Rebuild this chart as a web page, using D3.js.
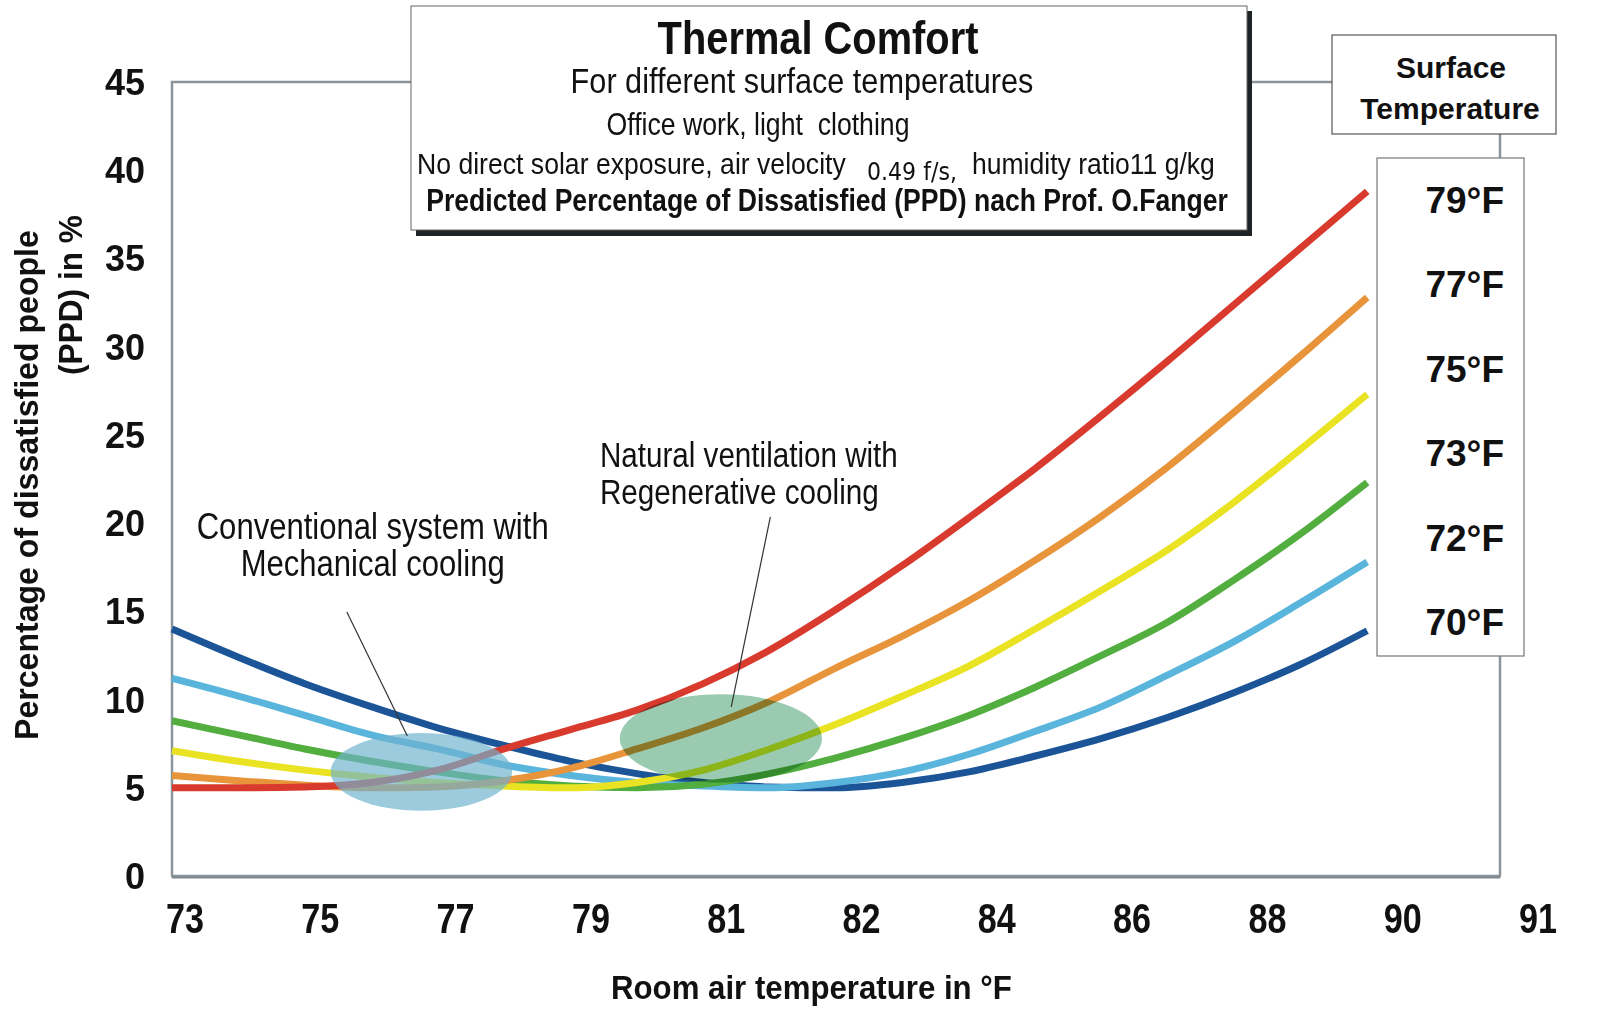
<!DOCTYPE html>
<html>
<head>
<meta charset="utf-8">
<script src="https://cdn.jsdelivr.net/npm/d3@7"></script>
<style>
  body { margin: 0; background: #fff; }
  svg text { fill: #111; white-space: pre; }
</style>
</head>
<body>
<div id="chart"></div>
<script>
// room air temperature (°F) of each reading, one per 0.9 °F
var airTemp = [73.4, 74.3, 75.2, 76.1, 77.0, 77.9, 78.8, 79.7, 80.6, 81.5, 82.4, 83.3, 84.2, 85.1, 86.0, 86.9, 87.8, 88.7, 89.6];

// PPD in % per surface temperature
var ppd79 = [5.0, 5.0, 5.05, 5.3, 6.0, 7.2, 8.3, 9.4, 10.9, 12.8, 15.1, 17.6, 20.3, 23.1, 26.1, 29.2, 32.4, 35.6, 38.8];
var ppd77 = [5.7, 5.4, 5.15, 5.0, 5.05, 5.4, 6.1, 7.2, 8.4, 9.9, 11.8, 13.6, 15.6, 17.9, 20.4, 23.2, 26.3, 29.5, 32.8];
var ppd75 = [7.1, 6.5, 6.0, 5.6, 5.3, 5.1, 5.0, 5.3, 6.0, 7.2, 8.6, 10.2, 11.9, 14.0, 16.2, 18.5, 21.2, 24.2, 27.3];
var ppd73 = [8.8, 8.0, 7.2, 6.5, 5.9, 5.4, 5.1, 5.0, 5.2, 5.8, 6.7, 7.8, 9.1, 10.7, 12.5, 14.4, 16.8, 19.4, 22.3];
var ppd72 = [11.2, 10.2, 9.1, 8.0, 7.2, 6.3, 5.7, 5.3, 5.1, 5.0, 5.3, 5.9, 6.9, 8.2, 9.6, 11.4, 13.3, 15.5, 17.8];
var ppd70 = [14.0, 12.4, 10.9, 9.6, 8.4, 7.4, 6.5, 5.8, 5.3, 5.05, 5.0, 5.3, 5.9, 6.8, 7.8, 9.0, 10.4, 12.0, 13.9];

var seriesNames = ["79°F", "77°F", "75°F", "73°F", "72°F", "70°F"];
var seriesValues = [ppd79, ppd77, ppd75, ppd73, ppd72, ppd70];
var seriesColors = ["#d93a2e", "#e8943a", "#e9e324", "#52ae3f", "#5ab5dc", "#1c5597"];

// axis ticks (x ticks sit every 1.8 °F, labels are rounded)
var xTickLabels = ["73", "75", "77", "79", "81", "82", "84", "86", "88", "90", "91"];
var yTickValues = [0, 5, 10, 15, 20, 25, 30, 35, 40, 45];

// highlighted zones: centre (°F, %) and radii
var zoneNames = ["mechanical", "natural"];
var zoneCx = [76.78, 80.84];
var zoneCy = [5.9, 7.8];
var zoneRx = [1.23, 1.37];
var zoneRy = [2.2, 2.5];
var zoneFill = ["#6fb2cf", "#9acbb0"];
var zoneOpacity = [0.68, 1];
var zoneBlend = ["normal", "multiply"];

// annotations: text lines, anchor and leader line (°F, %)
var noteLines = [["Conventional system with", "Mechanical cooling"], ["Natural ventilation with", "Regenerative cooling"]];
var noteWidths = [[352, 264], [298, 279]];
var noteX = [76.12, 79.2];
var noteY = [19.1, 23.2];
var noteAnchor = ["middle", "start"];
var leaderFrom = [[75.77, 14.96], [81.51, 20.35]];
var leaderTo = [[76.59, 7.93], [80.98, 9.58]];

var margin = {top: 82, right: 100, bottom: 153, left: 172},
    width = 1600 - margin.left - margin.right,
    height = 1029 - margin.top - margin.bottom;

var font = "'Liberation Sans', Arial, sans-serif";

var svg = d3.select("#chart")
  .append("svg")
  .attr("width", 1600)
  .attr("height", 1029);

// narrow look: squeeze regular glyphs horizontally to the width they had
function squeezed(parent, txt, len, px, py, opts) {
  var t = parent.append("text")
    .attr("text-anchor", opts.anchor || "start")
    .style("font-family", opts.family || font)
    .style("font-weight", opts.bold ? "bold" : "normal")
    .style("font-size", opts.size + "px")
    .text(txt);
  var w = t.node().getComputedTextLength();
  t.attr("transform", "translate(" + px + "," + py + ")" +
    (opts.rotate ? " rotate(" + opts.rotate + ")" : "") +
    " scale(" + (len / w) + ",1)");
  return t;
}

var g = svg.append("g")
  .attr("transform", "translate(" + margin.left + "," + margin.top + ")");

var x = d3.scaleLinear().domain([73.4, 91.4]).range([0, width]);
var y = d3.scaleLinear().domain([0, 45]).range([height, 0]);
// labels were spread a bit wider than the ticks in the original
var xLabel = d3.scalePoint().domain(xTickLabels).range([13, 1366]);

// plot frame
g.append("rect")
  .attr("x", 0).attr("y", 0)
  .attr("width", width).attr("height", height)
  .style("fill", "none")
  .style("stroke", "#8a959c")
  .style("stroke-width", 2.5);
g.append("line")
  .attr("x1", 0).attr("x2", width)
  .attr("y1", height + 1.5).attr("y2", height + 1.5)
  .style("stroke", "#7d878e")
  .style("stroke-width", 2);

// y axis labels
g.selectAll(".ytick")
  .data(yTickValues)
  .enter()
  .append("text")
  .attr("class", "ytick")
  .attr("x", -27)
  .attr("y", function(d){ return y(d); })
  .attr("dy", "0.36em")
  .attr("text-anchor", "end")
  .style("font-family", font)
  .style("font-weight", "bold")
  .style("font-size", "36px")
  .text(function(d){ return d; });

// x axis labels
xTickLabels.forEach(function(d){
  squeezed(g, d, 38, xLabel(d), height + 57, {anchor: "middle", bold: true, size: 42});
});

// axis titles
squeezed(svg, "Room air temperature in °F", 401, 611, 999, {bold: true, size: 33});
squeezed(svg, "Percentage of dissatisfied people", 510, 38, 740, {bold: true, size: 34, rotate: -90});
squeezed(svg, "(PPD) in %", 160, 82, 375, {bold: true, size: 34, rotate: -90});

// curves
var line = d3.line()
  .x(function(d){ return x(d[0]); })
  .y(function(d){ return y(d[1]); })
  .curve(d3.curveMonotoneX);

for (var s = seriesValues.length - 1; s >= 0; s--) {
  var pts = airTemp.map(function(t, i){ return [t, seriesValues[s][i]]; });
  g.append("path")
    .datum(pts)
    .attr("d", line)
    .style("fill", "none")
    .style("stroke", seriesColors[s])
    .style("stroke-width", 7);
}

// zones
g.selectAll(".zone")
  .data(zoneNames)
  .enter()
  .append("ellipse")
  .attr("class", "zone")
  .attr("cx", function(d, i){ return x(zoneCx[i]); })
  .attr("cy", function(d, i){ return y(zoneCy[i]); })
  .attr("rx", function(d, i){ return x(zoneCx[i] + zoneRx[i]) - x(zoneCx[i]); })
  .attr("ry", function(d, i){ return y(0) - y(zoneRy[i]); })
  .style("fill", function(d, i){ return zoneFill[i]; })
  .style("fill-opacity", function(d, i){ return zoneOpacity[i]; })
  .style("mix-blend-mode", function(d, i){ return zoneBlend[i]; });

// annotations
for (var n = 0; n < noteLines.length; n++) {
  g.append("line")
    .attr("x1", x(leaderFrom[n][0])).attr("y1", y(leaderFrom[n][1]))
    .attr("x2", x(leaderTo[n][0])).attr("y2", y(leaderTo[n][1]))
    .style("stroke", "#333")
    .style("stroke-width", 1.2);
  for (var k = 0; k < noteLines[n].length; k++) {
    squeezed(g, noteLines[n][k], noteWidths[n][k], x(noteX[n]), y(noteY[n]) + k * 37,
      {anchor: noteAnchor[n], size: 36});
  }
}

// title box
svg.append("rect")
  .attr("x", 416).attr("y", 11)
  .attr("width", 836).attr("height", 225)
  .style("fill", "#1e2326");
svg.append("rect")
  .attr("x", 411).attr("y", 6)
  .attr("width", 836).attr("height", 224)
  .style("fill", "#fff")
  .style("stroke", "#666")
  .style("stroke-width", 1);

squeezed(svg, "Thermal Comfort", 321, 818, 54, {anchor: "middle", bold: true, size: 46});
squeezed(svg, "For different surface temperatures", 463, 802, 93, {anchor: "middle", size: 36});
squeezed(svg, "Office work, light  clothing", 303, 758, 135, {anchor: "middle", size: 31});
squeezed(svg, "No direct solar exposure, air velocity", 429, 417, 174, {size: 30});
squeezed(svg, "0.49 f/s,", 90, 867, 180, {size: 24, family: "'DejaVu Sans Condensed', 'DejaVu Sans', sans-serif"});
squeezed(svg, "humidity ratio11 g/kg", 243, 972, 174, {size: 30});
squeezed(svg, "Predicted Percentage of Dissatisfied (PPD) nach Prof. O.Fanger", 802, 827, 211, {anchor: "middle", bold: true, size: 31});

// legend
svg.append("rect")
  .attr("x", 1332).attr("y", 35)
  .attr("width", 224).attr("height", 99)
  .style("fill", "#fff")
  .style("stroke", "#555")
  .style("stroke-width", 1.2);
svg.append("text")
  .attr("x", 1451).attr("y", 78)
  .attr("text-anchor", "middle")
  .style("font-family", font)
  .style("font-weight", "bold")
  .style("font-size", "30px")
  .text("Surface");
svg.append("text")
  .attr("x", 1450).attr("y", 119)
  .attr("text-anchor", "middle")
  .style("font-family", font)
  .style("font-weight", "bold")
  .style("font-size", "30px")
  .text("Temperature");

svg.append("rect")
  .attr("x", 1377).attr("y", 158)
  .attr("width", 147).attr("height", 498)
  .style("fill", "#fff")
  .style("stroke", "#777")
  .style("stroke-width", 1.2);

svg.selectAll(".legtext")
  .data(seriesNames)
  .enter()
  .append("text")
  .attr("class", "legtext")
  .attr("x", 1504)
  .attr("y", function(d, i){ return 213 + i * 84.4; })
  .attr("text-anchor", "end")
  .style("font-family", font)
  .style("font-weight", "bold")
  .style("font-size", "37px")
  .text(function(d){ return d; });
</script>
</body>
</html>
